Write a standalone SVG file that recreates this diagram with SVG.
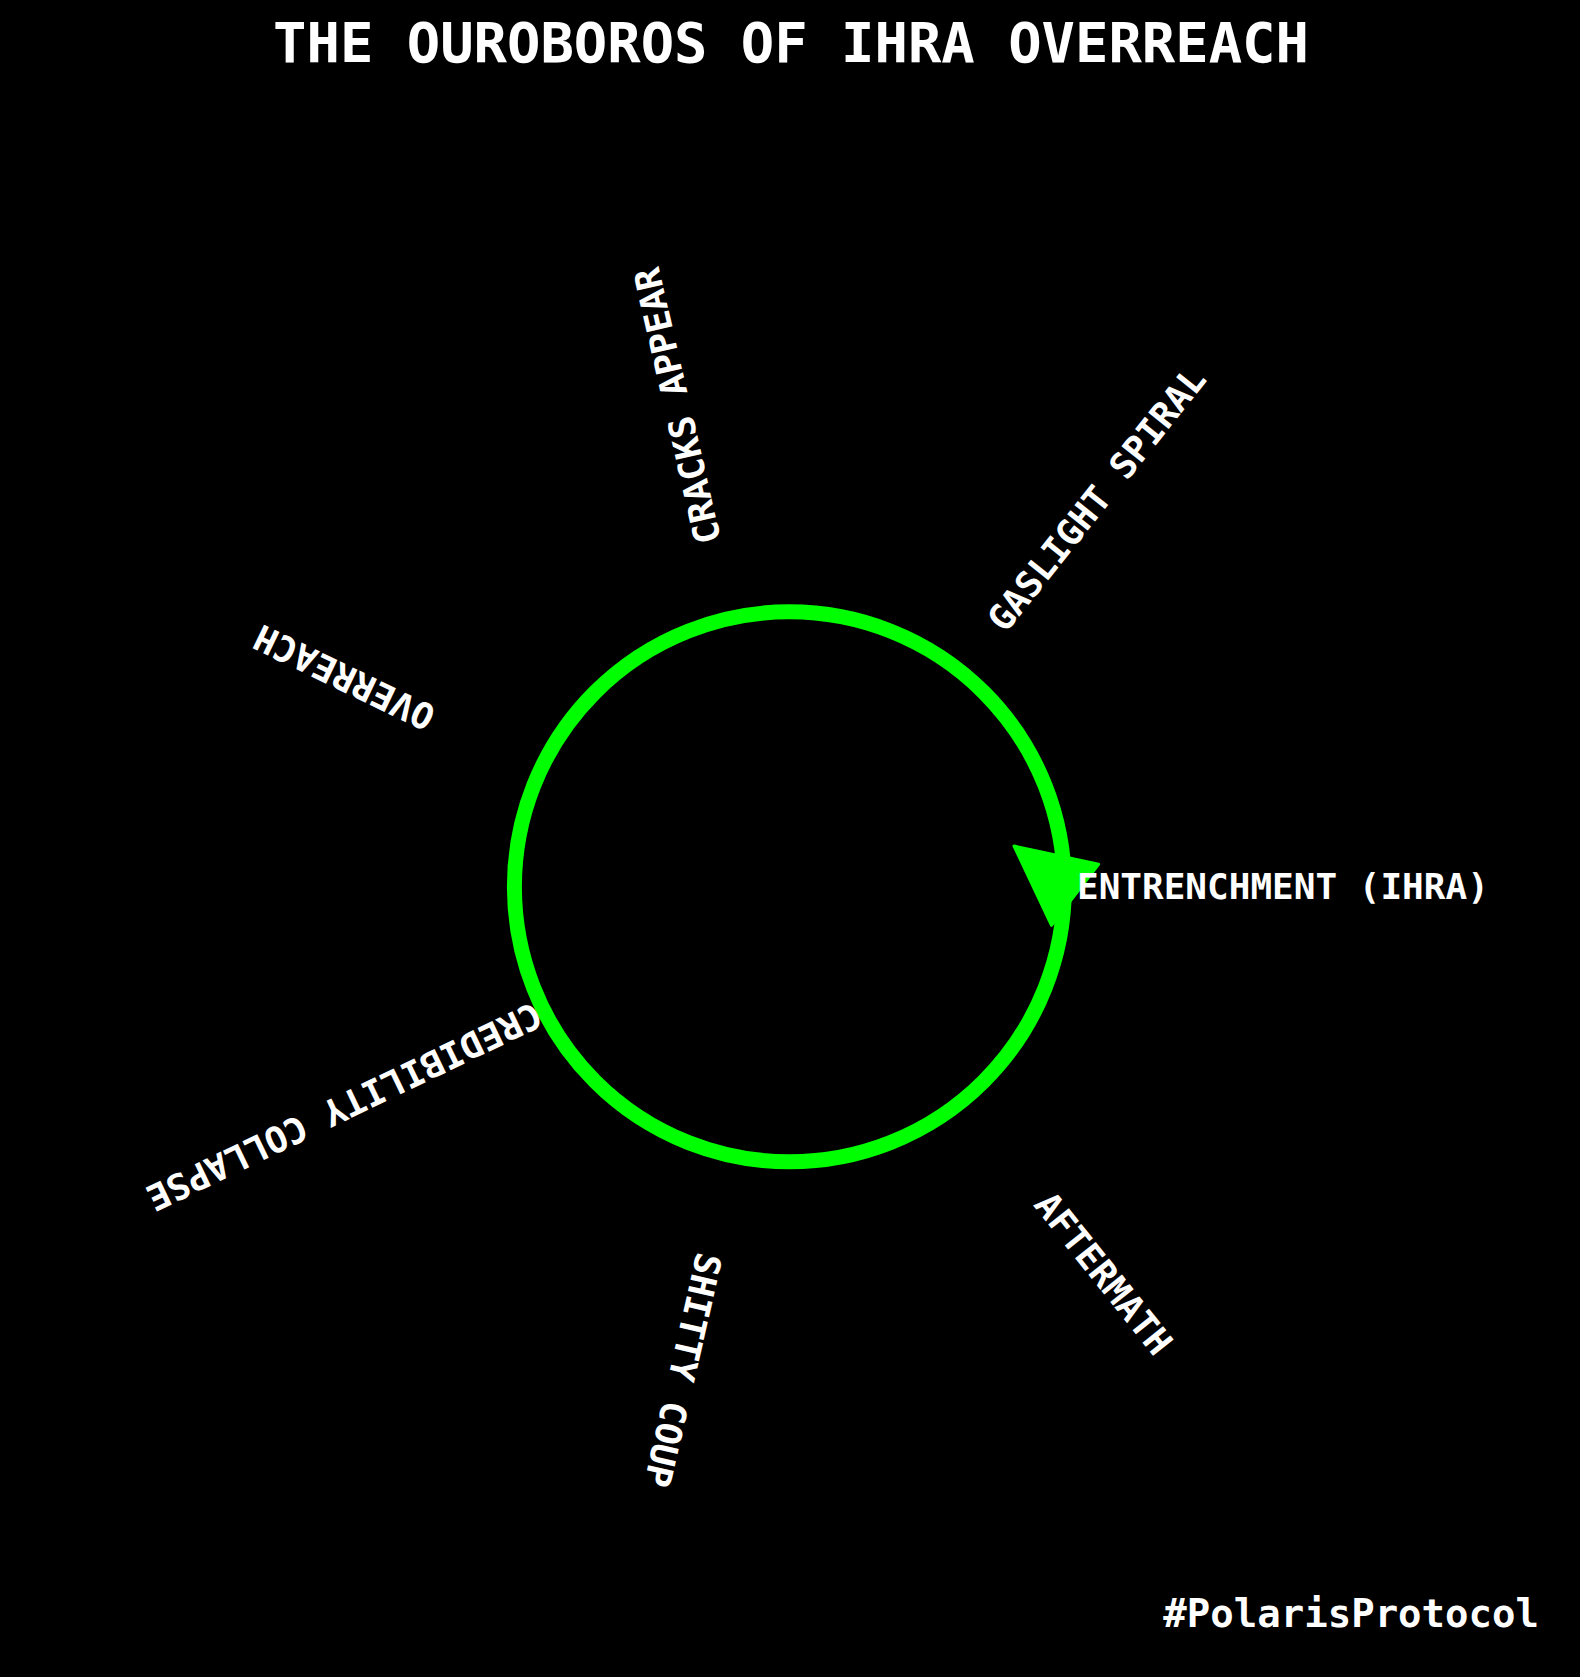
<svg xmlns="http://www.w3.org/2000/svg" width="1580" height="1677" viewBox="0 0 1580 1677">
  <style>
    .t { font-family: "DejaVu Sans Mono", "Liberation Mono", monospace; font-weight: bold; fill: #ffffff; }
    .lbl { font-size: 36px; }
    .ring { fill: none; stroke: #00ff00; stroke-width: 15; }
    .head { fill: #00ff00; stroke: #00ff00; stroke-width: 3; stroke-linejoin: round; }
  </style>
  <rect x="0" y="0" width="1580" height="1677" fill="#000000"/>
  <text id="title" class="t" x="791" y="62" font-size="55.5" text-anchor="middle">THE OUROBOROS OF IHRA OVERREACH</text>

  <g id="connectors">
    <circle class="ring" cx="789.4" cy="886.8" r="275"/>
    <polygon class="head" points="1014,846 1098.6,864.3 1051.5,925.3"/>
  </g>

  <g id="node-entrenchment">
    <text class="t lbl" transform="translate(1077,886)" x="0" y="13">ENTRENCHMENT (IHRA)</text>
  </g>
  <g id="node-gaslight">
    <text class="t lbl" transform="translate(995,626) rotate(-51.43)" x="0" y="13">GASLIGHT SPIRAL</text>
  </g>
  <g id="node-cracks">
    <text class="t lbl" transform="translate(708.5,543.5) rotate(-102.86)" x="0" y="13">CRACKS APPEAR</text>
  </g>
  <g id="node-overreach">
    <text class="t lbl" transform="translate(432,720) rotate(-154.29)" x="0" y="13">OVERREACH</text>
  </g>
  <g id="node-credibility">
    <text class="t lbl" transform="translate(539.7,1012.6) rotate(-205.71)" x="0" y="13">CREDIBILITY COLLAPSE</text>
  </g>
  <g id="node-coup">
    <text class="t lbl" transform="translate(709.7,1254) rotate(-257.14)" x="0" y="13">SHITTY COUP</text>
  </g>
  <g id="node-aftermath">
    <text class="t lbl" transform="translate(1043,1197) rotate(-308.57)" x="0" y="13">AFTERMATH</text>
  </g>

  <text id="hashtag" class="t" x="1539" y="1627" font-size="39" text-anchor="end">#PolarisProtocol</text>
</svg>
